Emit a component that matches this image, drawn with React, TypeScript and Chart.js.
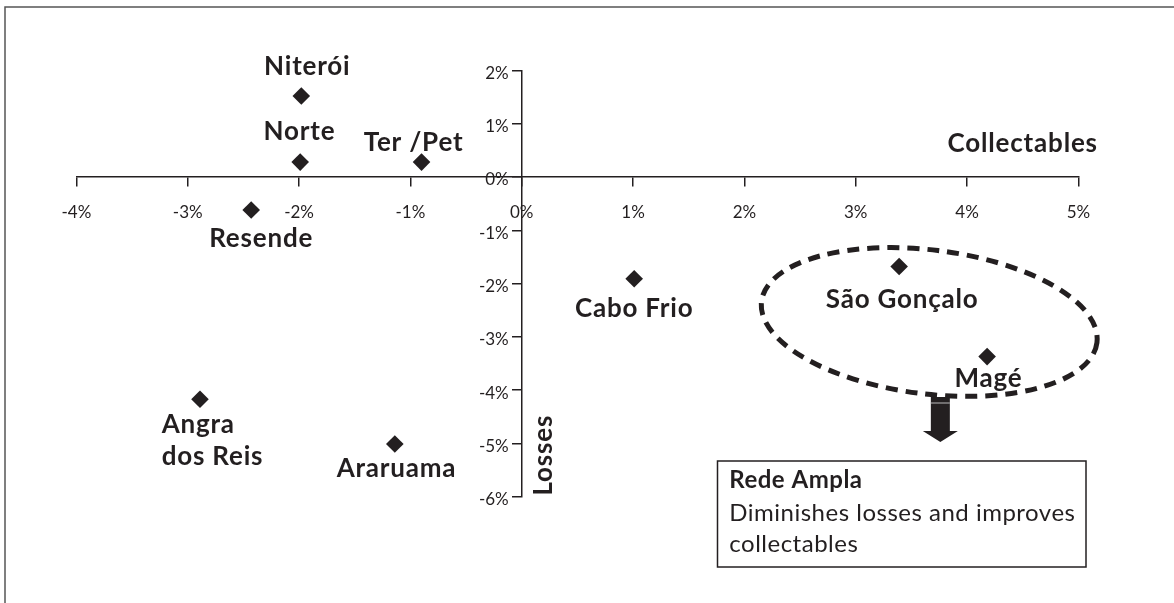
import { useEffect, useRef } from 'react';
import { Chart, registerables } from 'chart.js';

Chart.register(...registerables);

// ---------- data ----------
const categories = ['Niterói', 'Norte', 'Ter /Pet', 'Resende', 'Cabo Frio', 'São Gonçalo', 'Magé', 'Angra dos Reis', 'Araruama'];
const collectables = [-1.98, -1.99, -0.9, -2.43, 1.01, 3.39, 4.18, -2.89, -1.14];
const losses = [1.52, 0.28, 0.28, -0.62, -1.91, -1.68, -3.37, -4.17, -5.01];
const xTickValues = [-4, -3, -2, -1, 0, 1, 2, 3, 4, 5];
const yTickValues = [2, 1, 0, -1, -2, -3, -4, -5, -6];
const xAxisTitle = 'Collectables';
const yAxisTitle = 'Losses';
const calloutTitle = 'Rede Ampla';
const calloutLines = ['Diminishes losses and improves', 'collectables'];

// ---------- styles ----------
const INK = '#231f20';
const FONT = 'Lato';
const LABEL_FONT = `bold 26px ${FONT}`;
const LABEL_SPACING = '0.8px';

type LabelStyle = { dx: number; dy: number; align: CanvasTextAlign; lines?: string[]; gap?: number };
const labelStyles: Record<string, LabelStyle> = {
  'Niterói': { dx: 6, dy: -21.4, align: 'center' },
  'Norte': { dx: -0.7, dy: -22.3, align: 'center' },
  'Ter /Pet': { dx: -8, dy: -10.6, align: 'center' },
  'Resende': { dx: 10, dy: 36.7, align: 'center' },
  'Cabo Frio': { dx: 0, dy: 37.7, align: 'center' },
  'São Gonçalo': { dx: 3, dy: 41.3, align: 'center' },
  'Magé': { dx: 1.3, dy: 30, align: 'center' },
  'Angra dos Reis': { dx: -38.3, dy: 34, align: 'left', lines: ['Angra', 'dos Reis'], gap: 31.3 },
  'Araruama': { dx: 1.7, dy: 32.7, align: 'center' },
};

const decorPlugin = {
  id: 'decor',
  beforeDraw(chart: any) {
    const ctx = chart.ctx as CanvasRenderingContext2D;
    ctx.save();
    ctx.fillStyle = '#ffffff';
    ctx.fillRect(0, 0, chart.width, chart.height);
    // outer frame (only top & left visible)
    ctx.strokeStyle = '#555555';
    ctx.lineWidth = 1.5;
    ctx.beginPath();
    ctx.moveTo(5, chart.height + 5);
    ctx.lineTo(5, 7);
    ctx.lineTo(chart.width + 5, 7);
    ctx.stroke();
    ctx.restore();
  },
  afterDatasetsDraw(chart: any) {
    const ctx = chart.ctx as CanvasRenderingContext2D;
    const xs = chart.scales.x;
    const ys = chart.scales.y;
    const x0 = xs.getPixelForValue(0);
    const y0 = ys.getPixelForValue(0);
    ctx.save();
    ctx.fillStyle = INK;

    // point labels
    ctx.font = LABEL_FONT;
    (ctx as any).letterSpacing = LABEL_SPACING;
    ctx.textBaseline = 'alphabetic';
    const meta = chart.getDatasetMeta(0);
    meta.data.forEach((pt: any, i: number) => {
      const name = categories[i];
      const st = labelStyles[name];
      const lines = st.lines ?? [name];
      ctx.textAlign = st.align;
      lines.forEach((ln, k) => {
        ctx.fillText(ln, pt.x + st.dx, pt.y + st.dy + k * (st.gap ?? 0));
      });
    });

    // axis titles
    ctx.textAlign = 'right';
    ctx.fillText(xAxisTitle, xs.right + 19.4, y0 - 25);
    ctx.save();
    ctx.translate(x0 + 30, ys.getPixelForValue(-5.22));
    ctx.rotate(-Math.PI / 2);
    ctx.textAlign = 'center';
    ctx.fillText(yAxisTitle, 0, 0);
    ctx.restore();

    // dashed ellipse around the two best performers
    const ecx = xs.getPixelForValue(3.66);
    const ecy = ys.getPixelForValue(-2.72);
    ctx.save();
    ctx.strokeStyle = INK;
    ctx.lineWidth = 5;
    ctx.setLineDash([12, 8]);
    ctx.beginPath();
    ctx.ellipse(ecx, ecy, 169, 72, (7 * Math.PI) / 180, 0, Math.PI * 2);
    ctx.stroke();
    ctx.restore();

    // arrow
    const ax = xs.getPixelForValue(3.76);
    ctx.beginPath();
    ctx.rect(ax - 9.5, 397, 19, 34);
    ctx.moveTo(ax - 17.5, 431);
    ctx.lineTo(ax + 17.5, 431);
    ctx.lineTo(ax, 442);
    ctx.closePath();
    ctx.fill();
    ctx.fillStyle = '#bbbbbb';
    ctx.fillRect(ax - 9.5, 402.5, 19, 1);

    // callout box
    ctx.fillStyle = '#ffffff';
    ctx.fillRect(717.5, 461, 368.5, 106);
    ctx.strokeStyle = INK;
    ctx.lineWidth = 1.5;
    ctx.strokeRect(717.5, 461, 368.5, 106);
    ctx.fillStyle = INK;
    ctx.textAlign = 'left';
    (ctx as any).letterSpacing = '0.5px';
    ctx.font = `bold 24px ${FONT}`;
    ctx.fillText(calloutTitle, 729.3, 488);
    ctx.font = `24px ${FONT}`;
    calloutLines.forEach((ln, k) => ctx.fillText(ln, 729.3, 520.7 + k * 31.5));
    (ctx as any).letterSpacing = '0px';
    ctx.restore();
  },
};

export default function App() {
  const ref = useRef<HTMLCanvasElement>(null);
  useEffect(() => {
    const canvas = ref.current;
    if (!canvas) return;
    const pts = collectables.map((x, i) => ({ x, y: losses[i] }));
    const chart = new Chart(canvas, {
      type: 'scatter',
      data: {
        datasets: [
          {
            label: 'Regions',
            data: pts,
            pointStyle: 'rectRot',
            pointRadius: 8.8,
            pointHoverRadius: 8.8,
            backgroundColor: INK,
            borderWidth: 0,
            clip: false as any,
          },
        ],
      },
      options: {
        animation: false,
        responsive: false,
        devicePixelRatio: 1,
        events: [],
        layout: { padding: { left: 76.4, right: 95.6, top: 70.4, bottom: 106.2 } },
        plugins: { legend: { display: false }, tooltip: { enabled: false } },
        scales: {
          x: {
            type: 'linear',
            min: -4,
            max: 5,
            position: { y: 0 } as any,
            afterFit: (s: any) => { s.height = 0; },
            afterBuildTicks: (s: any) => { s.ticks = xTickValues.map((v) => ({ value: v })); },
            grid: { drawOnChartArea: false, drawTicks: true, tickLength: 9, color: INK, lineWidth: 1.5 },
            border: { display: true, color: INK, width: 1.5 },
            ticks: {
              font: { family: FONT, size: 17 },
              color: INK,
              padding: 16,
              maxRotation: 0,
              autoSkip: false,
              callback: (v: any) => `${v}%`,
            },
          },
          y: {
            type: 'linear',
            min: -6,
            max: 2,
            position: { x: 0 } as any,
            afterFit: (s: any) => { s.width = 0; },
            afterBuildTicks: (s: any) => { s.ticks = yTickValues.map((v) => ({ value: v })); },
            grid: { drawOnChartArea: false, drawTicks: true, tickLength: 9, color: INK, lineWidth: 1.5 },
            border: { display: true, color: INK, width: 1.5 },
            ticks: {
              font: { family: FONT, size: 17 },
              color: INK,
              padding: 3,
              labelOffset: 3,
              autoSkip: false,
              // trailing spaces keep the right-aligned labels clear of the tick marks
              callback: (v: any) => `${v}%   `,
            },
          },
        },
      },
      plugins: [decorPlugin],
    });
    return () => chart.destroy();
  }, []);

  return (
    <div style={{ position: 'fixed', left: 0, top: 0, width: 1174, height: 603, background: '#fff' }}>
      <canvas ref={ref} width={1174} height={603} style={{ display: 'block', width: 1174, height: 603 }} />
    </div>
  );
}
